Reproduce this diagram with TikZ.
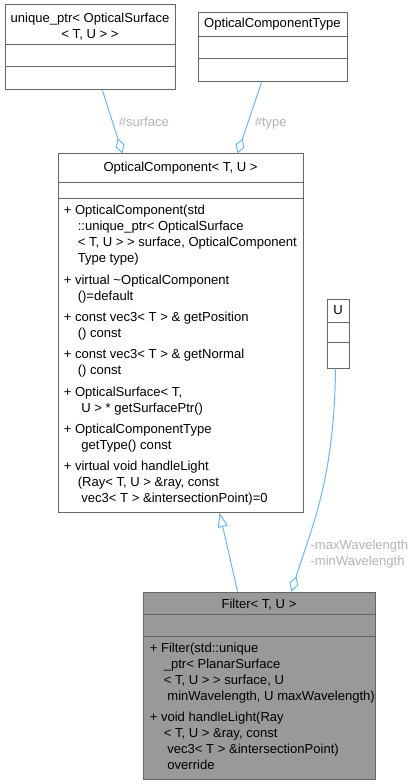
\documentclass[tikz,border=0pt]{standalone}
\usepackage{fontspec}
\setmainfont{Liberation Sans}
\usetikzlibrary{calc,arrows.meta,fit,positioning}
\definecolor{boxline}{HTML}{666666}
\definecolor{curfill}{HTML}{999999}
\definecolor{edgeblue}{HTML}{63B8FF}
\definecolor{lblgray}{HTML}{B4B4B4}
\newcommand{\ind}{\hspace*{10.5pt}}
\tikzset{
    classbox/.style={
    rectangle,draw=boxline,fill=white,inner sep=0pt,line width=0.75pt
    },
    curclass/.style={
    classbox,fill=curfill
    },
    sepline/.style={
    draw=boxline,line width=0.75pt
    },
    ctitle/.style={
    align=center,inner sep=0pt,font=\fontsize{9.8}{12}\selectfont
    },
    members/.style={
    align=left,inner sep=0pt,anchor=north west,font=\fontsize{9.8}{12}\selectfont
    },
    aggr/.style={
    draw=edgeblue,line width=0.75pt,-{Diamond[open,length=12pt,width=7pt]}
    },
    inherit/.style={
    draw=edgeblue,line width=0.75pt,-{Triangle[open,length=11pt,width=7.5pt]}
    },
    lbl/.style={
    text=lblgray,font=\fontsize{9.8}{12}\selectfont,align=left
    },
}
\begin{document}
\begin{tikzpicture}[x=0.75pt,y=-0.75pt]
   \useasboundingbox (0,0) rectangle (413,784);
   \node[classbox,fit={(5,5) (175,90)}] (surf) {};
   \node[classbox,fit={(198,13) (347,82)}] (ctype) {};
   \node[classbox,fit={(58,154) (303,512)}] (comp) {};
   \node[classbox,fit={(327,299) (349,368)}] (ubox) {};
   \node[curclass,fit={(143,592) (375,779)}] (filter) {};

   \draw[sepline] ($(surf.north west)+(0,40)$) -- ($(surf.north east)+(0,40)$);
   \draw[sepline] ($(surf.north west)+(0,62)$) -- ($(surf.north east)+(0,62)$);
   \draw[sepline] ($(ctype.north west)+(0,24)$) -- ($(ctype.north east)+(0,24)$);
   \draw[sepline] ($(ctype.north west)+(0,46)$) -- ($(ctype.north east)+(0,46)$);
   \draw[sepline] ($(comp.north west)+(0,29)$) -- ($(comp.north east)+(0,29)$);
   \draw[sepline] ($(comp.north west)+(0,45)$) -- ($(comp.north east)+(0,45)$);
   \draw[sepline] ($(ubox.north west)+(0,24)$) -- ($(ubox.north east)+(0,24)$);
   \draw[sepline] ($(ubox.north west)+(0,44)$) -- ($(ubox.north east)+(0,44)$);
   \draw[sepline] ($(filter.north west)+(0,23)$) -- ($(filter.north east)+(0,23)$);
   \draw[sepline] ($(filter.north west)+(0,45)$) -- ($(filter.north east)+(0,45)$);

   \node[ctitle] (surft) at ($(surf.north)+(0,22.5)$) {unique\_ptr< OpticalSurface\\< T, U > >};
   \node[ctitle] (ctypet) at ($(ctype.north)+(0,12)$) {OpticalComponentType};
   \node[ctitle] (compt) at ($(comp.north)+(0,15)$) {OpticalComponent< T, U >};
   \node[ctitle] (uboxt) at ($(ubox.north)+(0,12)$) {U};
   \node[ctitle] (filtert) at ($(filter.north)+(0,13)$) {Filter< T, U >};

   \node[members] (compm) at ($(comp.north west)+(6,51.5)$) {%
     + OpticalComponent(std\\
     \ind::unique\_ptr< OpticalSurface\\
     \ind< T, U > > surface, OpticalComponent\\
     \ind Type type)\\[4pt]
     + virtual \textasciitilde OpticalComponent\\
     \ind()=default\\[4pt]
     + const vec3< T > \& getPosition\\
     \ind() const\\[4pt]
     + const vec3< T > \& getNormal\\
     \ind() const\\[4pt]
     + OpticalSurface< T,\\
     \ind\ U > * getSurfacePtr()\\[4pt]
     + OpticalComponentType\\
     \ind\ getType() const\\[4pt]
     + virtual void handleLight\\
     \ind(Ray< T, U > \&ray, const\\
     \ind\ vec3< T > \&intersectionPoint)=0};
   \node[members] (filterm) at ($(filter.north west)+(7,51)$) {%
     + Filter(std::unique\\
     \ind\_ptr< PlanarSurface\\
     \ind< T, U > > surface, U\\
     \ind\ minWavelength, U maxWavelength)\\[4pt]
     + void handleLight(Ray\\
     \ind< T, U > \&ray, const\\
     \ind\ vec3< T > \&intersectionPoint)\\
     \ind\ override};

   \path
    ($(surf.south west)+(98,0)$) edge[aggr] node[lbl,pos=0.5,right,xshift=1pt] {\#surface} ($(comp.north west)+(65,0)$)
    ($(ctype.south west)+(64,0)$) edge[aggr] node[lbl,pos=0.57,right,xshift=1.5pt] {\#type} ($(comp.north west)+(180,0)$)
    ($(filter.north west)+(95,0)$) edge[inherit] ($(comp.south west)+(162,0)$);
   \draw[aggr] ($(ubox.south west)+(9,0)$) .. controls +(-1,110) and +(20,-64) .. ($(filter.north west)+(149,0)$)
     node[lbl,pos=0.8,right,xshift=1.5pt] {-maxWavelength\\-minWavelength};
\end{tikzpicture}
\end{document}
